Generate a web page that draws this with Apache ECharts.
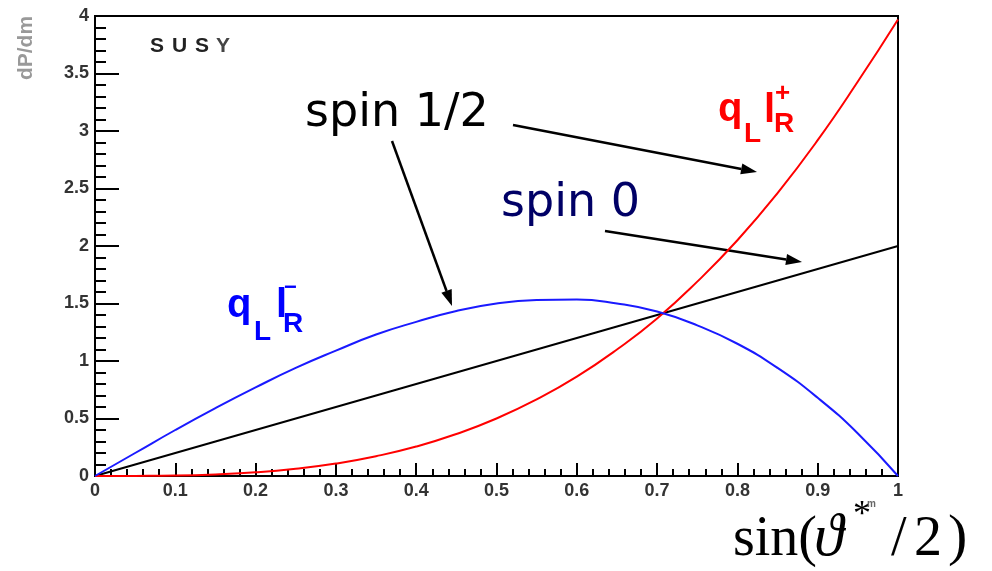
<!DOCTYPE html>
<html><head><meta charset="utf-8">
<script src="https://cdn.jsdelivr.net/npm/echarts@6/dist/echarts.min.js"></script>
<style>html,body{margin:0;padding:0;background:#fff}#c{width:992px;height:571px}</style>
</head><body><div id="c"></div>
<script>
const xValues = [0,0.05,0.1,0.15,0.2,0.25,0.3,0.35,0.4,0.45,0.5,0.55,0.6,0.65,0.7,0.75,0.8,0.85,0.9,0.95,1.0];
const spinZero = [0,0.1,0.2,0.3,0.4,0.5,0.6,0.7,0.8,0.9,1.0,1.1,1.2,1.3,1.4,1.5,1.6,1.7,1.8,1.9,2.0];
const qLlRplus = [0,0.001,0.004,0.014,0.032,0.063,0.108,0.172,0.256,0.365,0.5,0.666,0.864,1.1,1.37,1.69,2.05,2.46,2.92,3.43,3.97];
const qLlRminus = [0,0.2,0.4,0.59,0.77,0.94,1.09,1.23,1.34,1.435,1.5,1.53,1.535,1.5,1.43,1.31,1.15,0.94,0.68,0.37,0];
const xTicks = ['0','0.1','0.2','0.3','0.4','0.5','0.6','0.7','0.8','0.9','1'];
const yTicks = ['0','0.5','1','1.5','2','2.5','3','3.5','4'];

const chart = echarts.init(document.getElementById('c'), null, {renderer:'canvas'});
const pair = a => xValues.map((x,i)=>[x,a[i]]);

function arrow(x1,y1,x2,y2){
  const ang = Math.atan2(y2-y1,x2-x1), L=16, W=5.5;
  const bx = x2 - L*Math.cos(ang), by = y2 - L*Math.sin(ang);
  const px = -Math.sin(ang)*W, py = Math.cos(ang)*W;
  return [
    {type:'line', shape:{x1:x1,y1:y1,x2:bx,y2:by}, style:{stroke:'#000',lineWidth:2.5}},
    {type:'polygon', shape:{points:[[x2,y2],[bx+px,by+py],[bx-px,by-py]]}, style:{fill:'#000'}}
  ];
}
function txt(x,y,text,font,fill,extra){
  return Object.assign({type:'text', x:x, y:y, style:{text:text, font:font, fill:fill, align:'left', verticalAlign:'top'}}, extra||{});
}
const tickFont = {fontFamily:'Liberation Sans, Arial', fontWeight:'bold', fontSize:18, color:'#333'};
const SANSB = '"Liberation Sans", Arial';
const SERIF = '"Liberation Serif", "Times New Roman", "DejaVu Serif"';

const option = {
  animation:false,
  grid:{left:95, right:94, top:16, bottom:95, show:true, borderColor:'#000', borderWidth:2, backgroundColor:'transparent'},
  xAxis:{type:'value', min:0, max:1, interval:0.1,
    axisLine:{show:true, lineStyle:{color:'#000', width:2}},
    axisTick:{show:true, inside:true, length:13, lineStyle:{color:'#000', width:2}},
    minorTick:{show:true, splitNumber:5, length:7, lineStyle:{color:'#000', width:2}},
    splitLine:{show:false},
    axisLabel:{margin:6, ...tickFont, formatter:(v)=>xTicks[Math.round(v*10)]}
  },
  yAxis:{type:'value', min:0, max:4, interval:0.5,
    axisLine:{show:true, lineStyle:{color:'#000', width:2}},
    axisTick:{show:true, inside:true, length:24, lineStyle:{color:'#000', width:2}},
    minorTick:{show:true, splitNumber:5, length:11, lineStyle:{color:'#000', width:2}},
    splitLine:{show:false},
    axisLabel:{margin:6, ...tickFont, formatter:(v)=>yTicks[Math.round(v*2)]}
  },
  series:[
    {type:'line', name:'spin 0', data:pair(spinZero), showSymbol:false, smooth:true, lineStyle:{color:'#000', width:2}},
    {type:'line', name:'qLlR+', data:pair(qLlRplus), showSymbol:false, smooth:true, lineStyle:{color:'#ff0000', width:2}},
    {type:'line', name:'qLlR-', data:pair(qLlRminus), showSymbol:false, smooth:true, lineStyle:{color:'#1a1aff', width:2}}
  ],
  graphic:[
    {type:'text', x:26, y:48, rotation:Math.PI/2, style:{text:'dP/dm', font:'bold 21px '+SANSB, fill:'#999', align:'center', verticalAlign:'middle'}},
    txt(150,36,'S','bold 21px '+SANSB,'#222'),
    txt(172,36,'U','bold 21px '+SANSB,'#222'),
    txt(195,36,'S','bold 21px '+SANSB,'#222'),
    txt(216,36,'Y','bold 21px '+SANSB,'#444'),
    txt(305,91,'spin 1/2','46px "DejaVu Sans", "Noto Sans"','#000'),
    txt(501,181,'spin 0','46px "DejaVu Sans", "Noto Sans"','#000066'),
    ...arrow(513,125,757,172),
    ...arrow(392,141,452,306),
    ...arrow(605,231,802,262),
    // q_L l_R^- (blue)
    txt(227,286,'q','bold 40px '+SANSB,'#0000ff'),
    txt(254,318,'L','bold 28px '+SANSB,'#0000ff'),
    txt(276,286,'l','bold 40px '+SANSB,'#0000ff'),
    txt(283,310,'R','bold 28px '+SANSB,'#0000ff'),
    txt(284,277,'\u2212','bold 22px '+SANSB,'#0000ff'),
    // q_L l_R^+ (red)
    txt(718,90,'q','bold 40px '+SANSB,'#ff0000'),
    txt(744,120,'L','bold 28px '+SANSB,'#ff0000'),
    txt(764,91,'l','bold 40px '+SANSB,'#ff0000'),
    txt(774,110,'R','bold 28px '+SANSB,'#ff0000'),
    txt(775,81,'+','bold 26px '+SANSB,'#ff0000'),
    // x-axis title
    txt(733,512,'sin(','56px '+SERIF,'#000'),
    txt(814,509,'\u03D1','italic 60px '+SERIF,'#000'),
    txt(853,498,'*','36px '+SERIF,'#000'),
    txt(867,499,'m','bold 10px '+SANSB,'#666'),
    txt(891,512,'/','56px '+SERIF,'#000'),
    txt(914,512,'2','56px '+SERIF,'#000'),
    txt(948,510,')','58px '+SERIF,'#000')
  ]
};
chart.setOption(option);
</script></body></html>
